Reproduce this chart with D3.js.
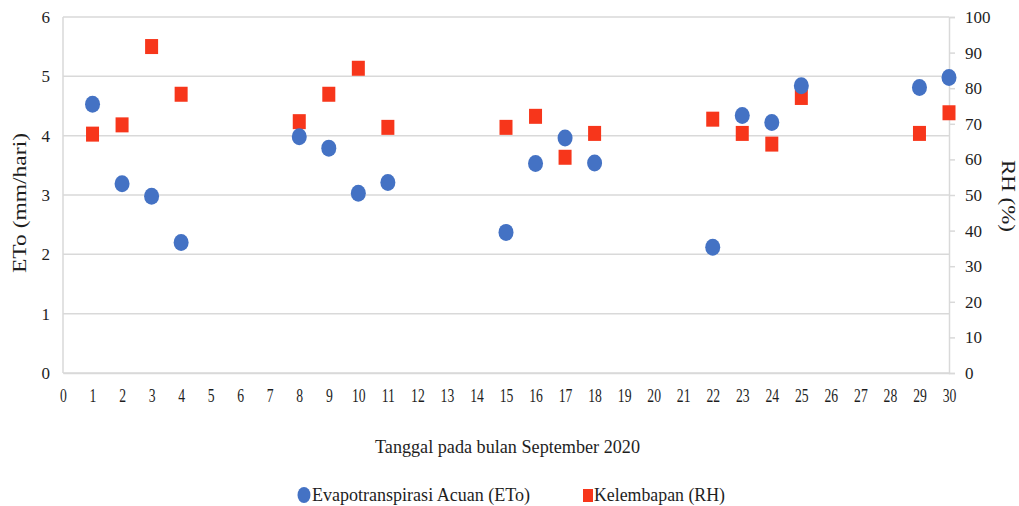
<!DOCTYPE html>
<html><head><meta charset="utf-8">
<script src="https://cdn.jsdelivr.net/npm/d3@7"></script>
<style>
body{margin:0;background:#fff}
svg{display:block}
</style>
</head><body>
<svg id="c" width="1019" height="506"></svg>
<script>
// ---- data ----
const days = [1,2,3,4,8,9,10,11,15,16,17,18,22,23,24,25,29,30];
const etoValues = [4.53,3.19,2.98,2.20,3.98,3.79,3.03,3.21,2.37,3.53,3.96,3.54,2.12,4.34,4.22,4.84,4.81,4.98];
const rhValues = [67.1,69.7,91.7,78.3,70.6,78.3,85.6,69.0,69.0,72.1,60.6,67.3,71.3,67.3,64.3,77.4,67.3,73.1];
const xTicks = d3.range(0,31);
const etoTicks = [0,1,2,3,4,5,6];
const rhTicks = [0,10,20,30,40,50,60,70,80,90,100];
const seriesNames = ["Evapotranspirasi Acuan (ETo)","Kelembapan (RH)"];
const xTitle = "Tanggal pada bulan September 2020";
const yLeftTitle = "ETo (mm/hari)";
const yRightTitle = "RH (%)";

// ---- layout ----
const FONT = "Liberation Serif";
const L = 63, R = 949, T = 17, B = 373;
const blue = "#4472C4", red = "#F7361B", grid = "#d9d9d9", ink = "#1e1e1e";
const svg = d3.select("#c");

const x = d3.scaleLinear().domain([0,30]).range([L,R]);
const yL = d3.scaleLinear().domain([0,6]).range([B,T]);
const yR = d3.scaleLinear().domain([0,100]).range([B,T]);
const fmt = d3.format("d");

// gridlines
svg.append("g").selectAll("line").data(etoTicks).join("line")
  .attr("x1",L).attr("x2",R).attr("y1",d=>yL(d)).attr("y2",d=>yL(d))
  .attr("stroke",grid).attr("stroke-width",1.5);

// left border line
svg.append("line").attr("x1",L).attr("x2",L).attr("y1",T).attr("y2",B)
  .attr("stroke",grid).attr("stroke-width",1.5);

// left axis labels
const gl = svg.append("g").attr("transform",`translate(${L},0)`)
  .call(d3.axisLeft(yL).tickValues(etoTicks).tickFormat(fmt).tickSize(0).tickPadding(13));
gl.select(".domain").remove();
gl.selectAll("text").style("font-family",FONT).style("font-size","17px").attr("fill",ink);

// right axis
const gr = svg.append("g").attr("transform",`translate(${R},0)`)
  .call(d3.axisRight(yR).tickValues(rhTicks).tickFormat(fmt).tickSize(6).tickPadding(10));
gr.select(".domain").attr("stroke",grid).attr("stroke-width",1.5);
gr.selectAll(".tick line").attr("stroke",grid).attr("stroke-width",1.5);
gr.selectAll("text").style("font-family",FONT).style("font-size","17px").attr("fill",ink);

// bottom axis labels
const gb = svg.append("g").attr("transform",`translate(0,${B})`)
  .call(d3.axisBottom(x).tickValues(xTicks).tickFormat(fmt).tickSize(0).tickPadding(16));
gb.select(".domain").attr("stroke",grid).attr("stroke-width",1.5);
gb.selectAll("text").style("font-family",FONT).style("font-size","19px").attr("fill",ink)
  .attr("transform","scale(0.72,1)");

// RH squares
svg.append("g").selectAll("rect").data(days).join("rect")
  .attr("x",d=>x(d)-6.5).attr("y",(d,i)=>yR(rhValues[i])-7.5)
  .attr("width",13).attr("height",15).attr("fill",red);

// ETo ellipses
svg.append("g").selectAll("ellipse").data(days).join("ellipse")
  .attr("cx",d=>x(d)).attr("cy",(d,i)=>yL(etoValues[i]))
  .attr("rx",7.5).attr("ry",8.5).attr("fill",blue);

function label(sel){ return sel.style("font-family",FONT).style("font-size","18px").attr("fill",ink).attr("lengthAdjust","spacingAndGlyphs"); }

// axis titles
label(svg.append("text").attr("transform",`translate(26,203) rotate(-90)`)
  .attr("text-anchor","middle").attr("textLength",140)).text(yLeftTitle);
label(svg.append("text").attr("transform",`translate(1002,196) rotate(90)`)
  .attr("text-anchor","middle").attr("textLength",72)).text(yRightTitle);
label(svg.append("text").attr("x",375).attr("y",453).attr("textLength",265)).text(xTitle);

// legend
const lg = svg.append("g");
lg.append("ellipse").attr("cx",304).attr("cy",495).attr("rx",6.5).attr("ry",8).attr("fill",blue);
label(lg.append("text").attr("x",312).attr("y",501).attr("textLength",218)).text(seriesNames[0]);
lg.append("rect").attr("x",583).attr("y",489).attr("width",10).attr("height",13).attr("fill",red);
label(lg.append("text").attr("x",594).attr("y",501).attr("textLength",131)).text(seriesNames[1]);
</script>
</body></html>
